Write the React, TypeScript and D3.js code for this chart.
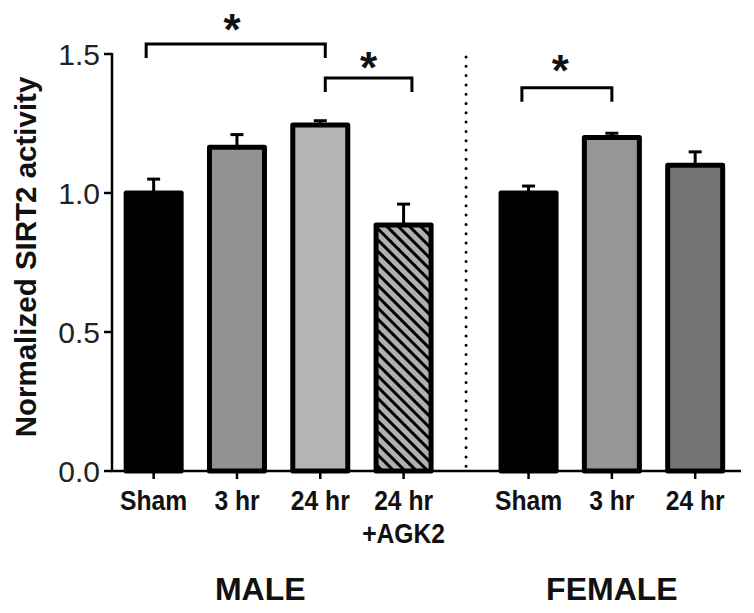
import React from "react";
import * as d3 from "d3";

const categories = ["Sham", "3 hr", "24 hr", "24 hr\n+AGK2", "Sham", "3 hr", "24 hr"];
const slots = [0, 1, 2, 3, 4.5, 5.5, 6.5];
const means = [1.0, 1.165, 1.245, 0.885, 1.0, 1.2, 1.1];
const errTops = [1.05, 1.21, 1.26, 0.96, 1.025, 1.215, 1.148];
const fills = ["#000000", "#929292", "#b4b4b4", "url(#hatch)", "#000000", "#969696", "#747474"];
const yTicks = [0, 0.5, 1.0, 1.5];
const groups = ["MALE", "FEMALE"];
const groupSlots = [1.28, 5.5];
// significance brackets
const bracketLeft = [-0.09, 2.06, 4.42];
const bracketRight = [2.06, 3.1, 5.5];
const bracketLevel = [1.536, 1.414, 1.379];
const bracketLeg = [1.486, 1.363, 1.328];
const starSlots = [0.94, 2.58, 4.88];
const starLevels = [1.613, 1.476, 1.466];
const separatorSlot = 3.75;

const W = 754;
const H = 613;

export default function App() {
  const x = d3.scaleLinear().domain([-0.5, 7.05]).range([112, 741]);
  const y = d3.scaleLinear().domain([0, 1.5]).range([471, 54]);
  const barW = 55;
  const font = "Arial, 'Liberation Sans', Helvetica, sans-serif";

  return (
    <svg width={W} height={H} style={{ position: "absolute", left: 0, top: 0, background: "#fff" }}>
      <defs>
        <pattern id="hatch" patternUnits="userSpaceOnUse" width={8} height={8} patternTransform="rotate(-45)">
          <rect x={0} y={0} width={8} height={8} fill="#b0b0b0" />
          <line x1={1.5} y1={-1} x2={1.5} y2={9} stroke="#000" strokeWidth={3} />
        </pattern>
      </defs>
      <rect x={0} y={0} width={W} height={H} fill="#fff" />

      {/* separator */}
      <line x1={x(separatorSlot)} x2={x(separatorSlot)} y1={57} y2={470} stroke="#000" strokeWidth={3} strokeDasharray="0,9.3" strokeLinecap="round" />

      {/* error bars */}
      {means.map((m, i) => (
        <g key={"e" + i} stroke="#000" strokeWidth={3}>
          <line x1={x(slots[i])} x2={x(slots[i])} y1={y(m)} y2={y(errTops[i])} />
          <line x1={x(slots[i]) - 6.5} x2={x(slots[i]) + 6.5} y1={y(errTops[i])} y2={y(errTops[i])} />
        </g>
      ))}

      {/* bars */}
      {means.map((m, i) => (
        <rect key={"b" + i} x={x(slots[i]) - barW / 2} y={y(m)} width={barW} height={y(0) - y(m)}
          fill={fills[i]} stroke="#000" strokeWidth={5} strokeLinejoin="round" />
      ))}

      {/* axes */}
      <line x1={112} x2={112} y1={y(1.5) - 1} y2={y(0) + 1} stroke="#000" strokeWidth={2.5} />
      <line x1={111} x2={x(7.05)} y1={y(0)} y2={y(0)} stroke="#000" strokeWidth={2.5} />
      {yTicks.map((t) => (
        <g key={"yt" + t}>
          <line x1={104} x2={112} y1={y(t)} y2={y(t)} stroke="#000" strokeWidth={2.5} />
          <text x={100} y={y(t) + 10.5} textAnchor="end" fontFamily={font} fontSize={30} fill="#222">{t.toFixed(1)}</text>
        </g>
      ))}
      {slots.map((s, i) => (
        <g key={"xt" + i}>
          <line x1={x(s)} x2={x(s)} y1={y(0)} y2={y(0) + 8} stroke="#000" strokeWidth={2.5} />
          {categories[i].split("\n").map((ln, j) => (
            <text key={j} transform={`translate(${x(s)},${510 + j * 33}) scale(0.88,1)`} textAnchor="middle" fontFamily={font} fontWeight="bold" fontSize={28} fill="#111">{ln}</text>
          ))}
        </g>
      ))}

      {/* y label */}
      <text transform={`translate(36,257) rotate(-90)`} textAnchor="middle" fontFamily={font} fontWeight="bold" fontSize={29.5} fill="#111">Normalized SIRT2 activity</text>

      {/* group labels */}
      {groups.map((g, i) => (
        <text key={g} x={x(groupSlots[i])} y={600} textAnchor="middle" fontFamily={font} fontWeight="bold" fontSize={32} fill="#111">{g}</text>
      ))}

      {/* significance brackets */}
      {bracketLeft.map((l, i) => (
        <g key={"br" + i}>
          <path d={`M${x(l)},${y(bracketLeg[i])}V${y(bracketLevel[i])}H${x(bracketRight[i])}V${y(bracketLeg[i])}`}
            fill="none" stroke="#000" strokeWidth={3} />
          <text x={x(starSlots[i])} y={y(starLevels[i]) + 22.5} textAnchor="middle" fontFamily={font} fontWeight="bold" fontSize={44} fill="#111">*</text>
        </g>
      ))}
    </svg>
  );
}
